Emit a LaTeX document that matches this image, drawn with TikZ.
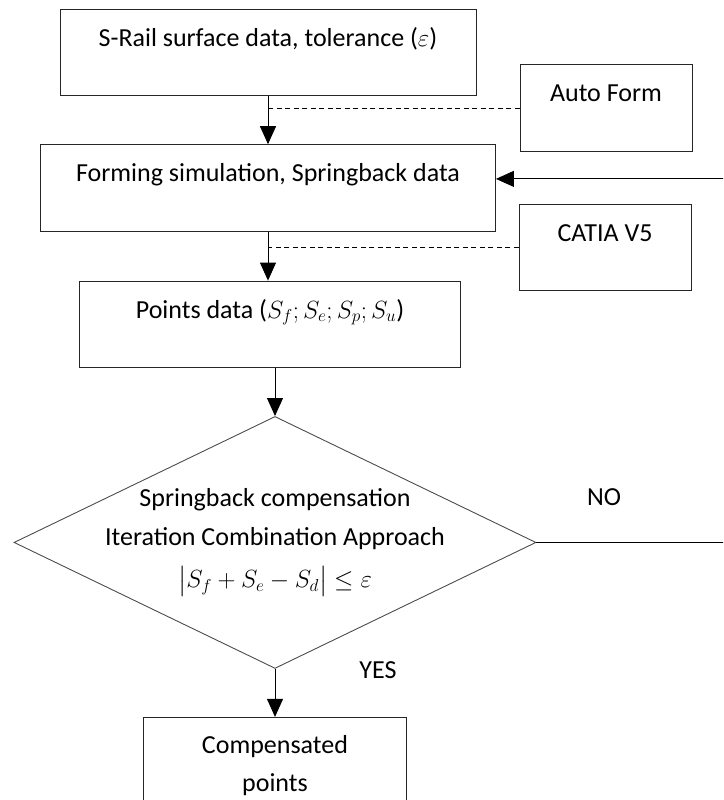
\documentclass[tikz,border=0pt]{standalone}
\usepackage{fontspec}
\setmainfont{Carlito}
\usepackage{amsmath}
\usetikzlibrary{arrows.meta,positioning,shapes.geometric}
\newcommand\stepfont{\fontsize{26}{38.5}\selectfont}

\begin{document}
\begin{tikzpicture}[
  x=1pt,y=-1pt,
  node distance=48pt,
  stepbox/.style={draw=black!85,line width=0.9pt,inner ysep=0pt,
    text height=37pt,text depth=49.5pt,font=\stepfont},
  toolbox/.style={stepbox,minimum width=172pt},
  decide/.style={diamond,aspect=2,draw=black!70,line width=0.9pt,
    minimum width=522pt,minimum height=252pt,
    inner xsep=-40pt,inner ysep=-20pt,align=center,font=\stepfont},
  endbox/.style={draw=black!85,line width=0.9pt,minimum width=263pt,
    minimum height=96pt,align=center,font=\stepfont},
  tag/.style={font=\stepfont},
  arrow/.style={-{Triangle[length=18pt,width=16pt]},line width=0.9pt},
  link/.style={dash pattern=on 5pt off 3.5pt,line width=0.8pt}
]
\useasboundingbox (0,0) rectangle (723,800);
\clip (0,0) rectangle (723,800);

\node[stepbox,minimum width=416pt] (input) at (268,52.5) {S-Rail surface data, tolerance ($\varepsilon$)};
\node[stepbox,minimum width=455pt,below=of input] (forming) {Forming simulation, Springback data};
\node[stepbox,minimum width=381pt,below=49pt of forming,xshift=2pt] (points) {Points data ($S_f;S_e;S_p;S_u$)};
\node[decide,below=of points,xshift=5pt] (check) {Springback compensation\\Iteration Combination Approach\\[4pt]$\bigl|S_f+S_e-S_d\bigr|\le\varepsilon$};
\node[endbox,below=of check] (result) {Compensated\\points};

\node[toolbox] (autoform) at (606,108) {Auto Form};
\node[toolbox] (catia) at (605,247.5) {CATIA V5};

\node[tag] (no) at (604,497) {NO};
\node[tag] (yes) at (378,670) {YES};
\coordinate (back) at (735,0);

\draw[arrow] (input) -- (forming);
\draw[arrow] (forming.south) -- (forming.south |- points.north);
\draw[arrow] (points.south -| check.north) -- (check.north);
\draw[arrow] (check) -- (result);
\draw[link] (autoform.west) -- (autoform.west -| input.south);
\draw[link] (catia.west) -- (catia.west -| forming.south);
\draw[arrow] (check.east) -- (check.east -| back) |- ([yshift=9pt]forming.east);
\end{tikzpicture}
\end{document}
